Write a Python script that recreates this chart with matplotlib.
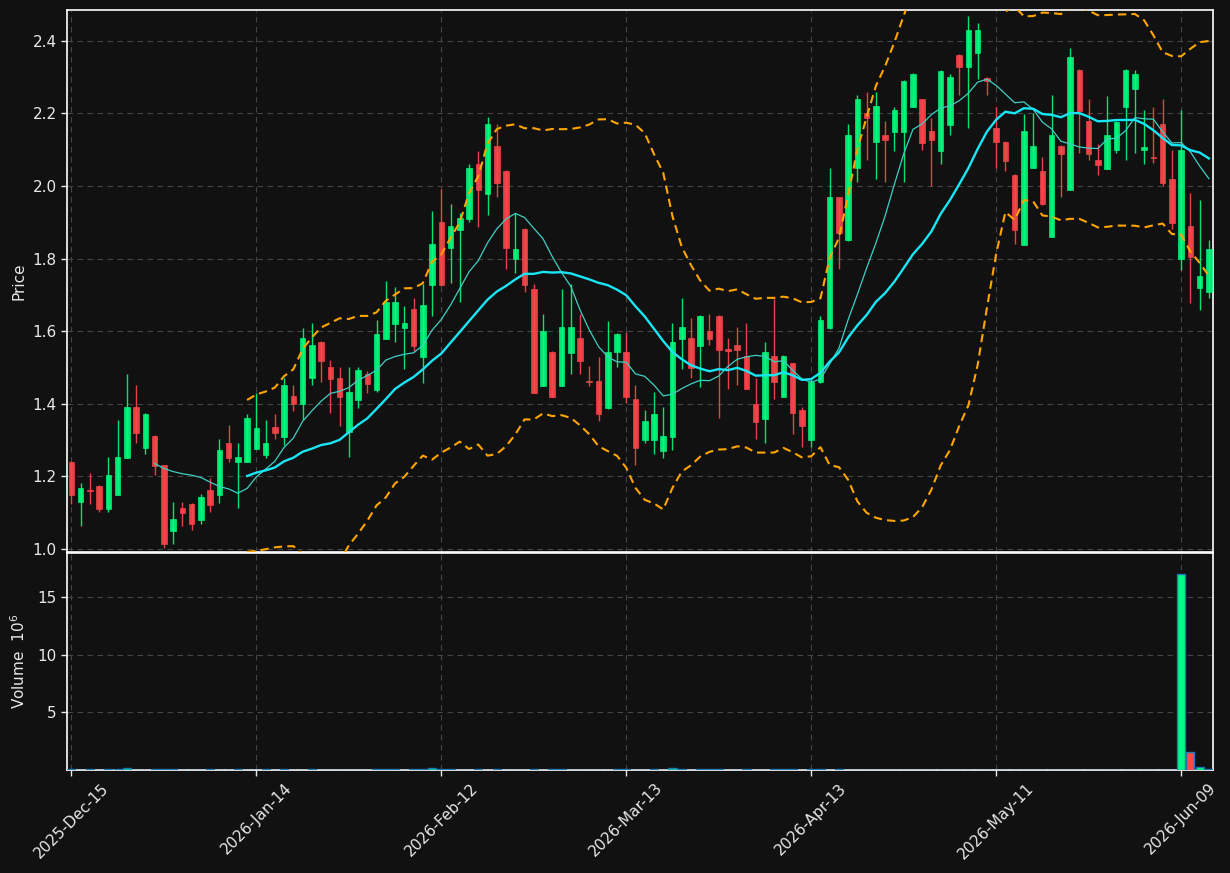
import numpy as np
import pandas as pd
import matplotlib
matplotlib.use("Agg")
import matplotlib.pyplot as plt

# ---- data ----
opens = [1.240, 1.130, 1.163, 1.174, 1.111, 1.150, 1.252, 1.391, 1.279, 1.311,
         1.231, 1.050, 1.113, 1.124, 1.080, 1.163, 1.150, 1.292, 1.241, 1.241,
         1.277, 1.259, 1.337, 1.309, 1.422, 1.400, 1.470, 1.571, 1.502, 1.472,
         1.323, 1.411, 1.482, 1.438, 1.579, 1.620, 1.610, 1.661, 1.530, 1.727,
         1.901, 1.830, 1.880, 1.910, 2.061, 1.979, 2.110, 2.042, 1.800, 1.882,
         1.716, 1.450, 1.543, 1.450, 1.541, 1.581, 1.462, 1.463, 1.388, 1.542,
         1.542, 1.413, 1.300, 1.300, 1.270, 1.309, 1.579, 1.581, 1.560, 1.601,
         1.642, 1.550, 1.562, 1.532, 1.401, 1.359, 1.532, 1.420, 1.512, 1.383,
         1.300, 1.461, 1.610, 1.969, 1.851, 2.049, 2.201, 2.122, 2.141, 2.150,
         2.150, 2.219, 2.239, 2.152, 2.098, 2.168, 2.361, 2.329, 2.368, 2.299,
         2.161, 2.121, 2.031, 1.839, 2.051, 2.042, 1.861, 2.111, 1.990, 2.320,
         2.179, 2.072, 2.048, 2.099, 2.219, 2.268, 2.099, 2.081, 2.170, 2.020,
         1.800, 1.890, 1.720, 1.709]
highs = [1.243, 1.181, 1.211, 1.176, 1.253, 1.357, 1.482, 1.451, 1.374, 1.313,
         1.233, 1.131, 1.131, 1.126, 1.151, 1.195, 1.302, 1.341, 1.291, 1.371,
         1.429, 1.357, 1.371, 1.470, 1.451, 1.610, 1.622, 1.573, 1.521, 1.501,
         1.501, 1.501, 1.490, 1.630, 1.739, 1.721, 1.670, 1.691, 1.730, 1.931,
         1.991, 1.950, 1.926, 2.060, 2.098, 2.190, 2.171, 2.044, 1.925, 1.884,
         1.729, 1.649, 1.545, 1.716, 1.729, 1.648, 1.505, 1.530, 1.629, 1.594,
         1.599, 1.452, 1.382, 1.432, 1.391, 1.622, 1.691, 1.636, 1.644, 1.649,
         1.644, 1.581, 1.611, 1.622, 1.470, 1.570, 1.691, 1.534, 1.514, 1.391,
         1.470, 1.642, 2.049, 1.971, 2.170, 2.250, 2.258, 2.258, 2.179, 2.219,
         2.292, 2.311, 2.241, 2.188, 2.319, 2.309, 2.363, 2.469, 2.449, 2.301,
         2.219, 2.123, 2.033, 2.199, 2.201, 2.079, 2.250, 2.113, 2.380, 2.322,
         2.239, 2.115, 2.248, 2.178, 2.322, 2.320, 2.210, 2.219, 2.239, 2.100,
         2.210, 1.981, 1.961, 1.851]
lows = [1.124, 1.063, 1.124, 1.101, 1.101, 1.148, 1.250, 1.291, 1.261, 1.203,
        1.004, 1.013, 1.063, 1.052, 1.070, 1.101, 1.126, 1.239, 1.113, 1.239,
        1.275, 1.250, 1.302, 1.287, 1.381, 1.355, 1.451, 1.461, 1.376, 1.340,
        1.253, 1.390, 1.431, 1.432, 1.578, 1.570, 1.496, 1.546, 1.457, 1.642,
        1.725, 1.734, 1.680, 1.900, 1.886, 1.919, 1.969, 1.771, 1.760, 1.709,
        1.429, 1.448, 1.418, 1.448, 1.482, 1.482, 1.450, 1.354, 1.386, 1.502,
        1.403, 1.231, 1.291, 1.261, 1.252, 1.273, 1.495, 1.470, 1.447, 1.561,
        1.360, 1.441, 1.452, 1.440, 1.302, 1.291, 1.413, 1.418, 1.316, 1.280,
        1.282, 1.458, 1.605, 1.771, 1.849, 2.011, 2.072, 2.019, 2.010, 2.098,
        2.011, 2.217, 2.100, 2.000, 2.060, 2.141, 2.251, 2.159, 2.294, 2.251,
        2.049, 2.042, 1.840, 1.837, 2.049, 1.948, 1.859, 1.969, 1.988, 2.090,
        2.071, 2.030, 2.046, 2.090, 2.072, 2.090, 2.060, 2.064, 2.000, 1.881,
        1.769, 1.679, 1.659, 1.691]
closes = [1.150, 1.168, 1.160, 1.111, 1.203, 1.253, 1.391, 1.320, 1.372, 1.230,
          1.013, 1.083, 1.100, 1.070, 1.143, 1.122, 1.273, 1.252, 1.254, 1.361,
          1.333, 1.292, 1.320, 1.452, 1.400, 1.581, 1.562, 1.519, 1.469, 1.420,
          1.433, 1.493, 1.455, 1.592, 1.681, 1.681, 1.624, 1.560, 1.672, 1.840,
          1.727, 1.890, 1.913, 2.050, 1.990, 2.171, 2.009, 1.830, 1.827, 1.728,
          1.431, 1.601, 1.420, 1.612, 1.612, 1.519, 1.459, 1.371, 1.542, 1.592,
          1.420, 1.279, 1.353, 1.372, 1.311, 1.570, 1.612, 1.500, 1.642, 1.580,
          1.549, 1.545, 1.548, 1.440, 1.351, 1.543, 1.461, 1.532, 1.376, 1.340,
          1.461, 1.631, 1.969, 1.870, 2.141, 2.239, 2.187, 2.220, 2.127, 2.210,
          2.290, 2.309, 2.120, 2.128, 2.317, 2.301, 2.329, 2.430, 2.430, 2.290,
          2.121, 2.070, 1.880, 2.152, 2.111, 1.950, 2.141, 2.089, 2.356, 2.207,
          2.089, 2.059, 2.141, 2.176, 2.320, 2.309, 2.108, 2.078, 2.009, 1.899,
          2.099, 1.805, 1.752, 1.827]
volumes_m = [0.06, 0.02, 0.05, 0.04, 0.05, 0.06, 0.15, 0.04, 0.02, 0.06,
             0.05, 0.06, 0.04, 0.02, 0.01, 0.05, 0.04, 0.01, 0.05, 0.04,
             0.01, 0.05, 0.02, 0.05, 0.04, 0.01, 0.05, 0.02, 0.04, 0.01,
             0.02, 0.01, 0.04, 0.05, 0.06, 0.05, 0.02, 0.06, 0.05, 0.18,
             0.05, 0.06, 0.04, 0.02, 0.05, 0.02, 0.05, 0.01, 0.02, 0.01,
             0.05, 0.04, 0.06, 0.05, 0.02, 0.01, 0.01, 0.01, 0.01, 0.05,
             0.06, 0.02, 0.04, 0.05, 0.03, 0.18, 0.05, 0.01, 0.05, 0.06,
             0.05, 0.02, 0.01, 0.05, 0.04, 0.01, 0.05, 0.06, 0.05, 0.01,
             0.05, 0.06, 0.02, 0.05, 0.01, 0.01, 0.01, 0.01, 0.01, 0.01,
             0.01, 0.01, 0.01, 0.01, 0.02, 0.01, 0.01, 0.01, 0.01, 0.01,
             0.01, 0.01, 0.01, 0.01, 0.01, 0.01, 0.01, 0.01, 0.01, 0.01,
             0.01, 0.01, 0.01, 0.01, 0.01, 0.01, 0.01, 0.01, 0.01, 0.01,
             17.0, 1.52, 0.29, 0.11]
tick_positions = [0, 20, 40, 60, 80, 100, 120]
tick_labels = ["2025-Dec-15", "2026-Jan-14", "2026-Feb-12", "2026-Mar-13",
               "2026-Apr-13", "2026-May-11", "2026-Jun-09"]
price_ticks = [1.0, 1.2, 1.4, 1.6, 1.8, 2.0, 2.2, 2.4]
volume_ticks = [5, 10, 15]
mav_short, mav_long, bb_k = 10, 20, 2

# ---- style ----
BG = "#111111"
UP = "#00ff7f"
DOWN = "#ff474c"
FG = "#e8e8e8"
GRID = "#454545"

o = np.array(opens); h = np.array(highs); l = np.array(lows); c = np.array(closes)
v = np.array(volumes_m)
x = np.arange(len(c))
up = c >= o
cols = np.where(up, UP, DOWN)

s = pd.Series(c)
ma_s = s.rolling(mav_short).mean()
ma_l = s.rolling(mav_long).mean()
sd = s.rolling(mav_long).std(ddof=0)
bb_up = ma_l + bb_k * sd
bb_lo = ma_l - bb_k * sd

fig = plt.figure(figsize=(12.3, 8.73), dpi=100, facecolor=BG)
ax = fig.add_axes([0.0545, 0.3677, 0.9317, 0.6208])
axv = fig.add_axes([0.0545, 0.118, 0.9317, 0.2485], sharex=ax)

for a in (ax, axv):
    a.set_facecolor(BG)
    for sp in a.spines.values():
        sp.set_color("white")
        sp.set_linewidth(1.2)
    a.tick_params(colors=FG, labelsize=11, length=4, width=1)
    a.grid(True, color=GRID, linestyle=(0, (5, 4)), linewidth=0.8)
    a.set_axisbelow(True)

# candles
ax.vlines(x, l, h, colors=cols, linewidth=1.0, alpha=0.9, zorder=2)
body_bot = np.minimum(o, c)
body_h = np.maximum(np.abs(c - o), 0.002)
ax.bar(x, body_h, bottom=body_bot, width=0.6, color=cols, edgecolor=cols,
       linewidth=0.5, alpha=0.9, zorder=3)

ax.plot(x, ma_s, color="#3fcfc4", linewidth=0.9, zorder=4)
ax.plot(x, ma_l, color="#19e6f5", linewidth=1.7, zorder=4)
ax.plot(x, bb_up, color="#ffa500", linewidth=1.5, linestyle=(0, (4, 2.5)), zorder=4)
ax.plot(x, bb_lo, color="#ffa500", linewidth=1.5, linestyle=(0, (4, 2.5)), zorder=4)

ax.set_ylim(0.992, 2.485)
ax.set_yticks(price_ticks)
ax.set_yticklabels([f"{t:.1f}" for t in price_ticks])
ax.set_ylabel("Price", color=FG, fontsize=11)
ax.tick_params(axis="x", labelbottom=False, length=0)
ax.set_xlim(-0.47, 123.45)

# volume
axv.bar(x, v, width=0.88, color=cols, edgecolor="#1f77b4", linewidth=1.0, zorder=3)
axv.set_ylim(0, 18.8)
axv.set_yticks(volume_ticks)
axv.set_yticklabels([str(t) for t in volume_ticks])
axv.set_ylabel("Volume  $10^{6}$", color=FG, fontsize=11)
axv.set_xticks(tick_positions)
axv.set_xticklabels(tick_labels, rotation=45)

ax.yaxis.set_label_coords(-0.035, 0.5)
axv.yaxis.set_label_coords(-0.034, 0.5)

fig.savefig("out.png", dpi=100, facecolor=BG)
